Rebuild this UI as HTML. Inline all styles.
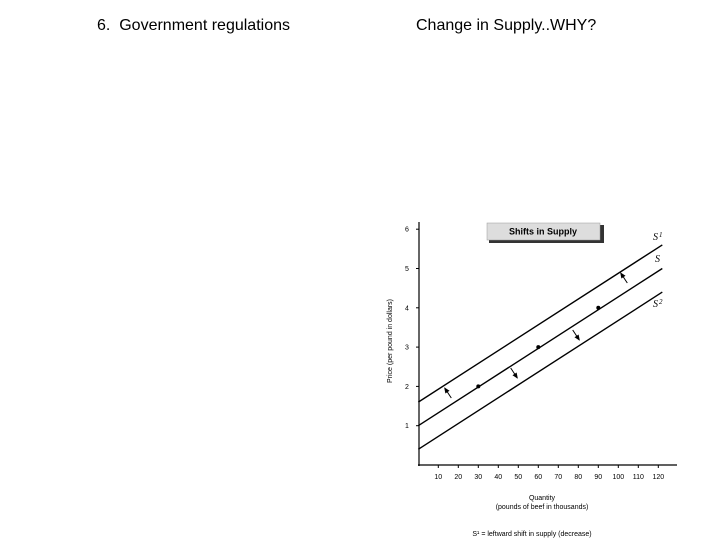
<!DOCTYPE html>
<html><head><meta charset="utf-8"><style>
body{margin:0;width:720px;height:540px;background:#fff;overflow:hidden;font-family:"Liberation Sans",sans-serif;position:relative}
.h{position:absolute;top:17px;font-size:16px;color:#000}
</style></head><body>
<div class="h" style="left:97px">6.&nbsp; Government regulations</div>
<div class="h" style="left:416px">Change in Supply..WHY?</div>
<svg id="c" width="720" height="540" style="position:absolute;left:0;top:0"></svg>
<script>
const xTicks=[10,20,30,40,50,60,70,80,90,100,110,120];
const yTicks=[1,2,3,4,5,6];
const curveNames=["S1","S","S2"];
const curveIntercepts=[1.6,1.0,0.4];
const curveEnds=[5.6,5.0,4.4];
const pointsQ=[30,60,90];
const pointsP=[2,3,4];
const X=q=>418.3+q*2.0, Y=p=>465-p*39.3;
const s=document.getElementById('c'),NS="http://www.w3.org/2000/svg";
function mk(t,a,txt){const e=document.createElementNS(NS,t);for(const k in a)e.setAttribute(k,a[k]);if(txt!=null)e.textContent=txt;s.appendChild(e);return e;}
let e;
e=mk('line',{x1:419,y1:222,x2:419,y2:466,stroke:'#000','stroke-width':1.2});


e=mk('line',{x1:418,y1:465,x2:677,y2:465,stroke:'#000','stroke-width':1.2});


yTicks.forEach(v=>{
 mk('line',{x1:416,y1:Y(v),x2:419,y2:Y(v),stroke:'#000'});
 e=mk('text',{x:407,y:Y(v)+2.5,'font-size':7,'text-anchor':'middle'},v);
 
 
});
xTicks.forEach(v=>{
 mk('line',{x1:X(v),y1:465,x2:X(v),y2:468,stroke:'#000'});
 e=mk('text',{x:X(v),y:479,'font-size':7,'text-anchor':'middle'},v);
 
 
});
curveNames.forEach((n,i)=>{
 e=mk('line',{x1:X(0),y1:Y(curveIntercepts[i]),x2:X(122),y2:Y(curveEnds[i]),stroke:'#000','stroke-width':1.4});
 
 
});
pointsQ.forEach((q,i)=>{
 e=mk('circle',{cx:X(q),cy:Y(pointsP[i]),r:2,fill:'#000'});
 
 
});
// arrows: [cx, cy, dir] dir -1 = up-left, 1 = down-right
[[448,393,-1],[624,278,-1],[514,373,1],[576,335,1]].forEach(a=>{
 const [x,y,d]=a;const ux=0.55*d,uy=0.83*d;
 const x1=x-ux*6,y1=y-uy*6,x2=x+ux*6,y2=y+uy*6;
 e=mk('line',{x1:x1,y1:y1,x2:x2,y2:y2,stroke:'#000','stroke-width':1});
 
 
 const bx=x2-ux*5,by=y2-uy*5,px=-uy*2.5,py=ux*2.5;
 mk('polygon',{points:`${x2+ux},${y2+uy} ${bx+px},${by+py} ${bx-px},${by-py}`,fill:'#000'});
});
// labels
[["S",653,240,"1"],["S",655,262,""],["S",653,307,"2"]].forEach(l=>{
 e=mk('text',{x:l[1],y:l[2],'font-size':10,'font-style':'italic','font-family':'Liberation Serif'},l[0]);
 
 
 if(l[3])mk('text',{x:l[1]+6,y:l[2]-3,'font-size':7,'font-style':'italic','font-family':'Liberation Serif'},l[3]);
});
// title box
mk('rect',{x:489,y:225,width:115,height:18,fill:'#333'});
e=mk('rect',{x:487,y:223,width:113,height:17,fill:'#ddd',stroke:'#999','stroke-width':0.5});


e=mk('text',{x:543,y:234.5,'font-size':9,'font-weight':'bold','text-anchor':'middle'},"Shifts in Supply");


e=mk('text',{x:392,y:341,'font-size':7,'text-anchor':'middle',transform:'rotate(-90 392 341)'},"Price (per pound in dollars)");


e=mk('text',{x:542,y:500,'font-size':7,'text-anchor':'middle'},"Quantity");


mk('text',{x:542,y:509,'font-size':7,'text-anchor':'middle'},"(pounds of beef in thousands)");
e=mk('text',{x:532,y:536,'font-size':7,'text-anchor':'middle'},"S\u00b9 = leftward shift in supply (decrease)");


</script>
</body></html>
